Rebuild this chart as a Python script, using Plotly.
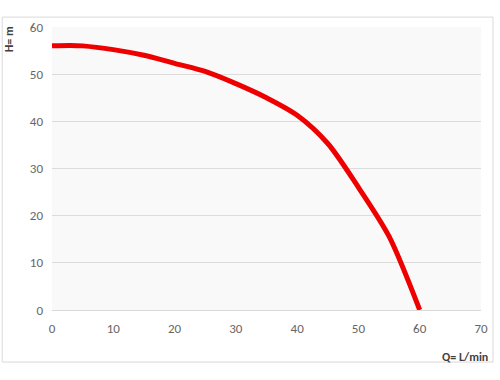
import plotly.graph_objects as go

flow_lpm = [0, 3, 5, 10, 15, 20, 25, 30, 35, 40, 45, 50, 55, 60]
head_m = [56.0, 56.1, 56.0, 55.2, 54.0, 52.3, 50.6, 48.0, 45.0, 41.3, 35.3, 26.0, 15.6, 0.0]

x_ticks = [0, 10, 20, 30, 40, 50, 60, 70]
y_ticks = [0, 10, 20, 30, 40, 50, 60]

fig = go.Figure()
fig.add_trace(go.Scatter(
    x=flow_lpm, y=head_m, mode="lines",
    line=dict(color="#ee0000", width=5, shape="spline", smoothing=0.8),
    hoverinfo="x+y", showlegend=False,
))

font_family = "Carlito, 'Open Sans', 'Liberation Sans', Arial, sans-serif"
fig.update_layout(
    width=500, height=380,
    margin=dict(l=52, r=17, t=27, b=70),
    paper_bgcolor="white",
    plot_bgcolor="#f9f9f9",
    font=dict(family=font_family, size=13, color="#666666"),
    xaxis=dict(range=[0, 70], tickvals=x_ticks, showgrid=False, zeroline=False,
               showline=True, linecolor="#d9d9d9", linewidth=1, ticks="",
               ticklabelstandoff=6, fixedrange=True),
    yaxis=dict(range=[0, 60], tickvals=y_ticks, showgrid=True, gridcolor="#dcdcdc",
               gridwidth=1, zeroline=False, showline=False, ticks="",
               ticklabelstandoff=8, fixedrange=True),
    shapes=[dict(type="rect", xref="paper", yref="paper",
                 x0=-0.116, x1=1.028, y0=-0.184, y1=1.035,
                 line=dict(color="#d9d9d9", width=1), fillcolor="rgba(0,0,0,0)",
                 layer="below")],
    annotations=[
        dict(text="<b>H= m</b>", xref="paper", yref="paper", x=-0.1, y=1.01,
             textangle=-90, showarrow=False, xanchor="center", yanchor="top",
             font=dict(size=12, color="#404040", family=font_family)),
        dict(text="<b>Q= L/min</b>", xref="paper", yref="paper", x=1.02, y=-0.135,
             showarrow=False, xanchor="right", yanchor="top",
             font=dict(size=12, color="#404040", family=font_family)),
    ],
)

fig.write_html("out.html")
